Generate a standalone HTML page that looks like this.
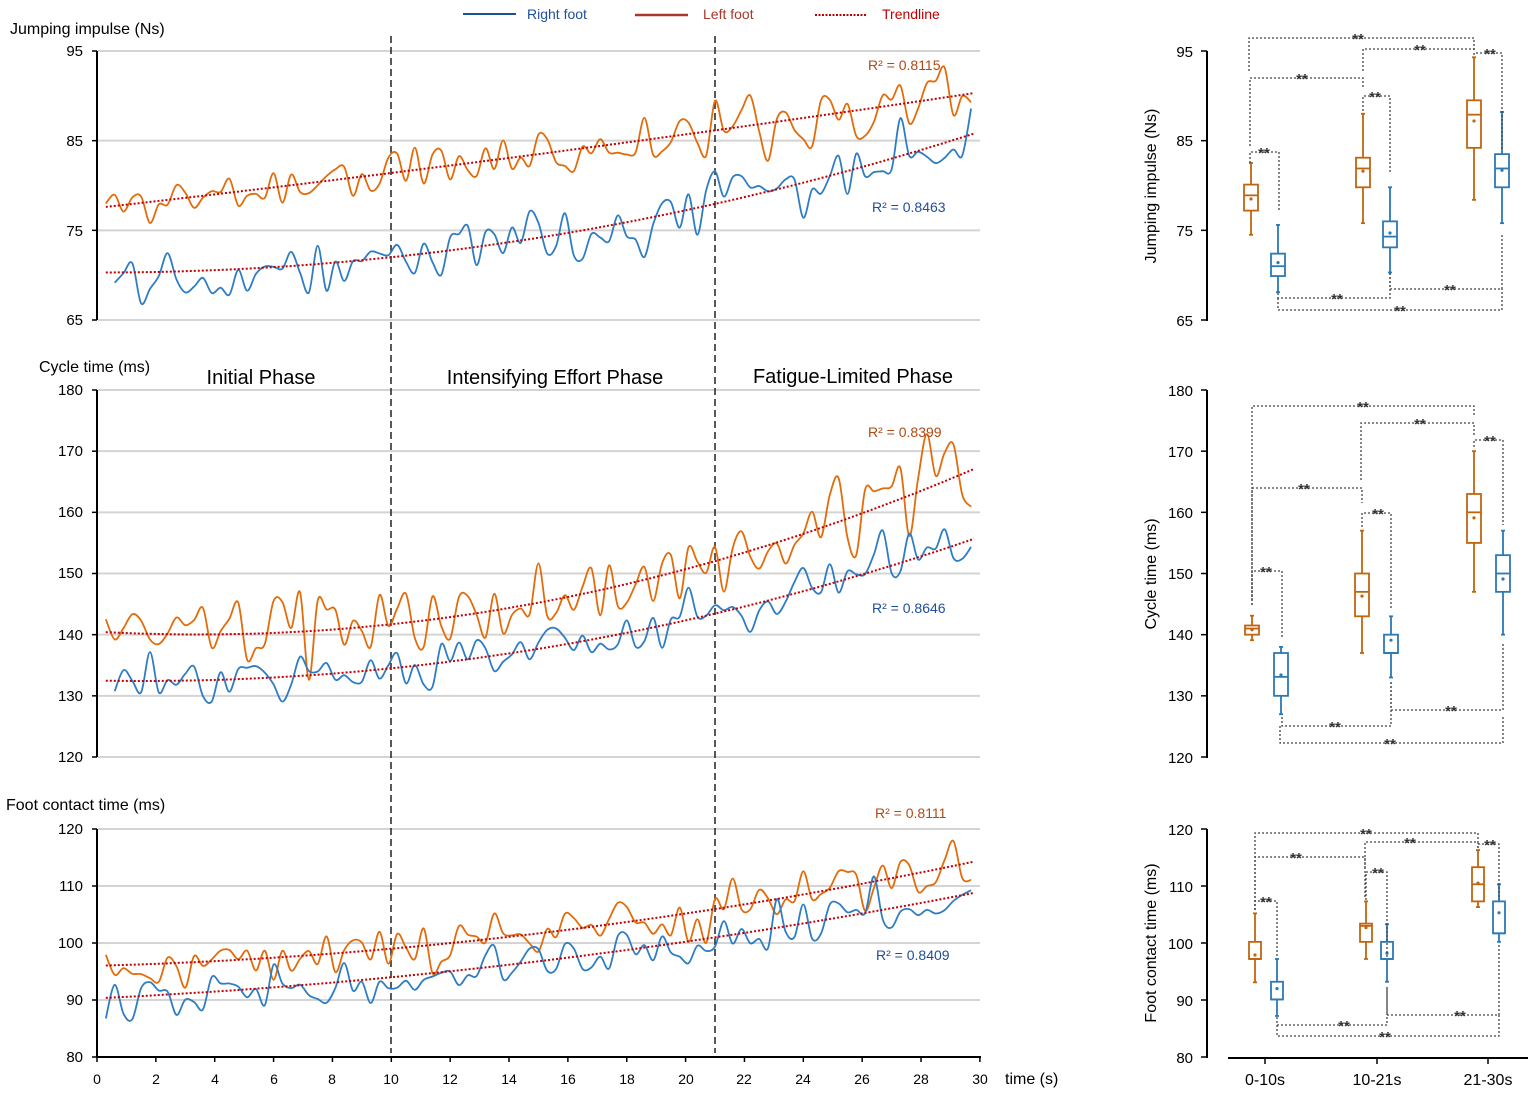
<!DOCTYPE html>
<html><head><meta charset="utf-8"><style>
html,body{margin:0;padding:0;background:#fff}
svg{display:block}
text{font-family:"Liberation Sans",sans-serif;}
</style></head><body>
<svg id="s" width="1535" height="1094" viewBox="0 0 1535 1094" xmlns="http://www.w3.org/2000/svg">
<rect width="1535" height="1094" fill="#fff"/>
<g id="grid"></g>
<g id="curves"></g>
<g id="boxes"></g>
<g font-size="15" fill="#000">
<text x="10" y="34" font-size="16">Jumping impulse (Ns)</text>
<text x="39" y="372" font-size="16">Cycle time (ms)</text>
<text x="6" y="810" font-size="16">Foot contact time (ms)</text>
<text x="261" y="384" font-size="20" text-anchor="middle">Initial Phase</text>
<text x="555" y="384" font-size="20" text-anchor="middle">Intensifying Effort Phase</text>
<text x="853" y="383" font-size="20" text-anchor="middle">Fatigue-Limited Phase</text>
<text x="1005" y="1084" font-size="16">time (s)</text>
</g>
<g font-size="14">
<line x1="463" y1="14" x2="516" y2="14" stroke="#1f4e9a" stroke-width="2"/>
<text x="527" y="19" fill="#1f4e9a">Right foot</text>
<line x1="635" y1="15" x2="688" y2="15" stroke="#a8382a" stroke-width="2.5"/>
<text x="703" y="19" fill="#a8382a">Left foot</text>
<line x1="815" y1="15" x2="866" y2="15" stroke="#c00000" stroke-width="2" stroke-dasharray="2,1.5"/>
<text x="882" y="19" fill="#c00000">Trendline</text>
<text x="868" y="70" fill="#b04a14">R² = 0.8115</text>
<text x="872" y="212" fill="#1f4e9a">R² = 0.8463</text>
<text x="868" y="437" fill="#b04a14">R² = 0.8399</text>
<text x="872" y="613" fill="#1f4e9a">R² = 0.8646</text>
<text x="875" y="818" fill="#b04a14">R² = 0.8111</text>
<text x="876" y="960" fill="#1f4e9a">R² = 0.8409</text>
</g>
<g font-size="15" text-anchor="end">
<text x="83" y="56">95</text><text x="83" y="146">85</text><text x="83" y="236">75</text><text x="83" y="325">65</text>
<text x="83" y="395">180</text><text x="83" y="456">170</text><text x="83" y="517">160</text><text x="83" y="578">150</text><text x="83" y="640">140</text><text x="83" y="701">130</text><text x="83" y="762">120</text>
<text x="83" y="834">120</text><text x="83" y="891">110</text><text x="83" y="948">100</text><text x="83" y="1005">90</text><text x="83" y="1062">80</text>
</g>
<g font-size="14" text-anchor="middle">
<text x="97" y="1084">0</text><text x="156" y="1084">2</text><text x="215" y="1084">4</text><text x="274" y="1084">6</text><text x="332" y="1084">8</text><text x="391" y="1084">10</text><text x="450" y="1084">12</text><text x="509" y="1084">14</text><text x="568" y="1084">16</text><text x="627" y="1084">18</text><text x="686" y="1084">20</text><text x="744" y="1084">22</text><text x="803" y="1084">24</text><text x="862" y="1084">26</text><text x="921" y="1084">28</text><text x="980" y="1084">30</text>
</g>
<g font-size="15" text-anchor="end">
<text x="1193" y="57">95</text><text x="1193" y="146">85</text><text x="1193" y="236">75</text><text x="1193" y="326">65</text>
<text x="1193" y="396">180</text><text x="1193" y="457">170</text><text x="1193" y="518">160</text><text x="1193" y="579">150</text><text x="1193" y="640">140</text><text x="1193" y="701">130</text><text x="1193" y="763">120</text>
<text x="1193" y="835">120</text><text x="1193" y="892">110</text><text x="1193" y="949">100</text><text x="1193" y="1006">90</text><text x="1193" y="1063">80</text>
</g>
<g font-size="16" text-anchor="middle">
<text transform="translate(1156,186) rotate(-90)">Jumping impulse (Ns)</text>
<text transform="translate(1156,574) rotate(-90)">Cycle time (ms)</text>
<text transform="translate(1156,943) rotate(-90)">Foot contact time (ms)</text>
<text x="1265" y="1085">0-10s</text><text x="1377" y="1085">10-21s</text><text x="1488" y="1085">21-30s</text>
</g>
<g id="stars" font-size="15" font-weight="bold" text-anchor="middle" fill="#333"></g>
</svg>
<script>
var NS="http://www.w3.org/2000/svg";
function el(p,t,a){var e=document.createElementNS(NS,t);for(var k in a)e.setAttribute(k,a[k]);p.appendChild(e);return e;}
var G=document.getElementById('grid'),C=document.getElementById('curves'),B=document.getElementById('boxes'),S=document.getElementById('stars');
function X(t){return 97+t*29.43;}
var P=[
 {y0:51,y1:320,vmax:95,vmin:65,step:10},
 {y0:390,y1:757,vmax:180,vmin:120,step:10},
 {y0:829,y1:1057,vmax:120,vmin:80,step:10}];
P.forEach(function(p){p.Y=function(v){return p.y0+(p.vmax-v)*(p.y1-p.y0)/(p.vmax-p.vmin);};});
P.forEach(function(p,i){
 for(var v=p.vmin;v<=p.vmax;v+=p.step){var y=p.Y(v);
  el(G,'line',{x1:98,y1:y,x2:980,y2:y,stroke:'#d4d4d4','stroke-width':2});
  el(G,'line',{x1:92,y1:y,x2:97,y2:y,stroke:'#000','stroke-width':1.5});
  el(G,'line',{x1:1201,y1:y,x2:1207,y2:y,stroke:'#000','stroke-width':1.5});}
 el(G,'line',{x1:97,y1:p.y0,x2:97,y2:p.y1,stroke:'#000','stroke-width':2});
 el(G,'line',{x1:1207,y1:p.y0,x2:1207,y2:p.y1+1,stroke:'#000','stroke-width':2});
});
el(G,'line',{x1:97,y1:1057,x2:981,y2:1057,stroke:'#000','stroke-width':2});
for(var t=0;t<=30;t+=2)el(G,'line',{x1:X(t),y1:1057,x2:X(t),y2:1062,stroke:'#000','stroke-width':1.5});
el(G,'line',{x1:1228,y1:1058,x2:1528,y2:1058,stroke:'#000','stroke-width':2});
[1265,1377,1488].forEach(function(x){el(G,'line',{x1:x,y1:1058,x2:x,y2:1064,stroke:'#000','stroke-width':1.5});});
[391,715].forEach(function(x){el(G,'line',{x1:x,y1:36,x2:x,y2:1053,stroke:'#222','stroke-width':1.5,'stroke-dasharray':'7,4'});});
function rng(seed){return function(){seed|=0;seed=seed+0x6D2B79F5|0;var t=Math.imul(seed^seed>>>15,1|seed);t=t+Math.imul(t^t>>>7,61|t)^t;return((t^t>>>14)>>>0)/4294967296;};}
function smooth(pts){var d='M'+pts[0][0].toFixed(1)+','+pts[0][1].toFixed(1);
 for(var i=0;i<pts.length-1;i++){var p0=pts[Math.max(0,i-1)],p1=pts[i],p2=pts[i+1],p3=pts[Math.min(pts.length-1,i+2)];
  d+='C'+(p1[0]+(p2[0]-p0[0])/6).toFixed(1)+','+(p1[1]+(p2[1]-p0[1])/6).toFixed(1)+' '+(p2[0]-(p3[0]-p1[0])/6).toFixed(1)+','+(p2[1]-(p3[1]-p1[1])/6).toFixed(1)+' '+p2[0].toFixed(1)+','+p2[1].toFixed(1);}
 return d;}
var series=[
 [0,[77.5,0.37,0.002],1.6,'#e36c0a',11,0.3],
 [0,[70.3,-0.0067,0.01767],1.7,'#2e7dc4',22,0.6],
 [1,[140.5,-0.27,0.039],3.2,'#e36c0a',33,0.3],
 [1,[132.5,-0.0917,0.02917],2.5,'#2e7dc4',44,0.6],
 [2,[96,0.1417,0.01583],2.2,'#e36c0a',55,0.3],
 [2,[90.3,0.243,0.01267],2.0,'#2e7dc4',66,0.3]];
series.forEach(function(s){var p=P[s[0]],c=s[1],r=rng(s[4]),pts=[];
 for(var t=s[5];t<=29.75;t+=0.3){var n=(r()+r()+r()-1.5)*2*s[2]*(0.8+t/60);
  pts.push([X(t),p.Y(c[0]+c[1]*t+c[2]*t*t+n)]);}
 el(C,'path',{d:smooth(pts),fill:'none',stroke:s[3],'stroke-width':1.8});});
series.forEach(function(s){var p=P[s[0]],c=s[1],pts=[];
 for(var t=0.3;t<=30;t+=0.5)pts.push(X(t).toFixed(1)+','+p.Y(c[0]+c[1]*t+c[2]*t*t).toFixed(1));
 el(C,'polyline',{points:pts.join(' '),fill:'none',stroke:'#c00000','stroke-width':2,'stroke-dasharray':'2,2'});});
var OR='#c0650e',BL='#2b79b5';
var BX=[
 [[1251,1278,1363,1390,1474,1502],14,[[74.5,77.2,78.9,80.1,82.5,78.5],[68.1,69.9,71.0,72.4,75.6,71.4],[75.8,79.8,81.9,83.1,88.0,81.6],[70.3,73.1,74.3,76.0,79.8,74.7],[78.4,84.2,87.9,89.5,94.3,87.2],[75.8,79.8,81.9,83.5,88.2,81.7]]],
 [[1252,1281,1362,1391,1474,1503],14,[[139.1,140,141,141.5,143.1,140.8],[127,130,133.1,137,138,133.4],[137,143,147,150,157,146.3],[133,137,137,140,143,139.1],[147,155,160,163,170,159.1],[140,147,150,153,157,149.1]]],
 [[1255,1277,1366,1387,1478,1499],12,[[93.1,97.2,97.2,100.2,105.2,97.9],[87.2,90.1,90.1,93.2,97.2,92],[97.2,100.2,103,103.4,107.3,102.7],[93.2,97.2,97.2,100.2,103.3,98.2],[106.3,107.3,110.3,113.3,116.3,110.5],[100.2,101.7,101.7,107.3,110.3,105.3]]]];
BX.forEach(function(b,i){var p=P[i],w=b[1]/2;
 b[2].forEach(function(d,j){var x=b[0][j],col=j%2?BL:OR,a={stroke:col,'stroke-width':1.8,fill:'none'};
  el(B,'line',Object.assign({x1:x,y1:p.Y(d[0]),x2:x,y2:p.Y(d[1])},a));
  el(B,'line',Object.assign({x1:x,y1:p.Y(d[3]),x2:x,y2:p.Y(d[4])},a));
  el(B,'line',Object.assign({x1:x-2,y1:p.Y(d[0]),x2:x+2,y2:p.Y(d[0])},a));
  el(B,'line',Object.assign({x1:x-2,y1:p.Y(d[4]),x2:x+2,y2:p.Y(d[4])},a));
  el(B,'rect',Object.assign({x:x-w,y:p.Y(d[3]),width:2*w,height:p.Y(d[1])-p.Y(d[3])},a,{fill:'#fff'}));
  el(B,'line',Object.assign({x1:x-w,y1:p.Y(d[2]),x2:x+w,y2:p.Y(d[2])},a));
  el(B,'circle',{cx:x,cy:p.Y(d[5]),r:1.6,fill:col});});});
var BR=[
 [[[1249,71],[1249,38],[1474,38],[1474,50]],1358],
 [[[1363,71],[1363,49],[1474,49],[1474,52]],1420],
 [[[1474,55],[1474,53],[1502,53],[1502,150]],1490],
 [[[1250,146],[1250,78],[1363,78],[1363,89]],1302],
 [[[1363,111],[1363,96],[1390,96],[1390,173]],1375],
 [[[1250,163],[1250,152],[1279,152],[1279,212]],1264],
 [[[1278,293],[1278,298],[1390,298],[1390,273]],1337],
 [[[1390,273],[1390,289],[1502,289],[1502,233]],1450],
 [[[1278,298],[1278,310],[1502,310],[1502,289]],1400],
 [[[1252,605],[1252,406],[1474,406],[1474,417]],1363],
 [[[1361,480],[1361,423],[1474,423],[1474,435]],1420],
 [[[1474,447],[1474,440],[1503,440],[1503,525]],1490],
 [[[1252,600],[1252,488],[1362,488],[1362,503]],1304],
 [[[1362,527],[1362,513],[1391,513],[1391,608]],1378],
 [[[1252,605],[1252,571],[1282,571],[1282,638]],1266],
 [[[1282,717],[1282,726],[1391,726],[1391,682]],1335],
 [[[1391,682],[1391,710],[1503,710],[1503,642]],1451],
 [[[1280,726],[1280,743],[1503,743],[1503,717]],1390],
 [[[1255,910],[1255,833],[1478,833],[1478,842]],1366],
 [[[1365,897],[1365,842],[1478,842],[1478,848]],1410],
 [[[1478,848],[1478,844],[1499,844],[1499,900]],1490],
 [[[1255,910],[1255,857],[1365,857],[1365,870]],1296],
 [[[1366,900],[1366,872],[1387,872],[1387,958]],1378],
 [[[1255,910],[1255,901],[1277,901],[1277,957]],1266],
 [[[1277,1017],[1277,1025],[1387,1025],[1387,987]],1344],
 [[[1387,987],[1387,1015],[1499,1015],[1499,943]],1460],
 [[[1277,1025],[1277,1036],[1499,1036],[1499,1015]],1385]];
BR.forEach(function(b){var p=b[0];
 el(B,'polyline',{points:p.map(function(q){return q.join(',');}).join(' '),fill:'none',stroke:'#444','stroke-width':1.3,'stroke-dasharray':'2,2'});
 var t=el(S,'text',{x:b[1],y:p[1][1]+6});t.textContent='**';});
</script>
</body></html>
